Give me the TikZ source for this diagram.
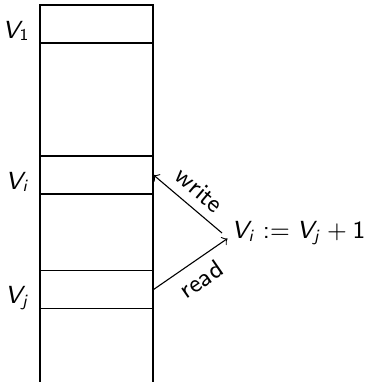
\documentclass[tikz,border=0pt]{standalone}
\usetikzlibrary{positioning}

% Mathe in serifenloser Schrift
\DeclareMathVersion{sans}
\SetSymbolFont{operators}{sans}{OT1}{cmss}{m}{n}
\SetSymbolFont{letters}{sans}{OT1}{cmss}{m}{sl}

\tikzset{
  cell/.style={draw, minimum width=41.1pt, minimum height=13.8pt, inner sep=0pt},
  vlabel/.style={anchor=base east}
}

\begin{document}
\begin{tikzpicture}[x=0.3636pt, y=-0.3636pt, font=\fontsize{9.2}{11}\sffamily\mathversion{sans}\selectfont]
  \useasboundingbox (0,0) rectangle (370,382);

  % Speicher (Spalte)
  \draw (40,382) -- (40,5) -- (153,5) -- (153,382);

  % Zellen
  \node[cell] (v1) at (96.5,24) {};
  \node[cell] (vi) at (96.5,175) {};
  \node[cell] (vj) at (96.5,289.5) {};

  % Beschriftungen
  \node[vlabel] (l1) at ([yshift=2pt]v1.south west) {$V_1$};
  \node[vlabel] (li) at ([yshift=2pt]vi.south west) {$V_i$};
  \node[vlabel] (lj) at ([yshift=2pt]vj.south west) {$V_j$};

  % Anweisung
  \node[anchor=west] (expr) at (222,233) {$V_i := V_j + 1$};

  % Zugriffe
  \draw[->] (expr.west) -- node[midway, above, sloped] {write} (vi.east);
  \draw[->] (vj.east) -- node[midway, below, sloped] {read} ([xshift=2pt,yshift=-2pt]expr.west);
\end{tikzpicture}
\end{document}
